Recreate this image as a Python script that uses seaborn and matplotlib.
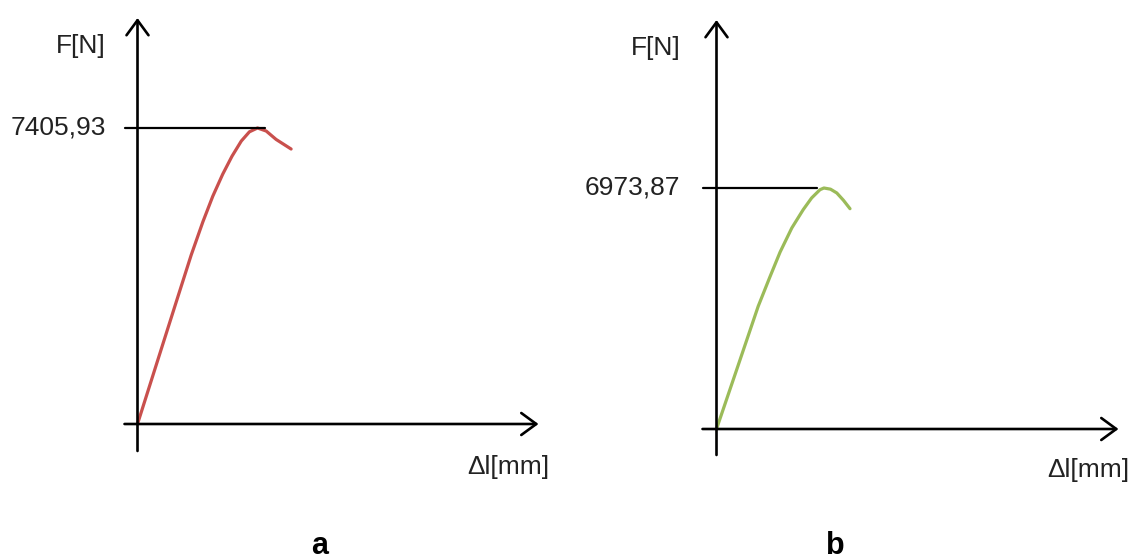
import pandas as pd
import matplotlib.pyplot as plt
import seaborn as sns

# force-elongation curves
dl_a = [0, 0.82, 1.3, 1.79, 2.18, 2.51, 2.84, 3.15, 3.46, 3.73, 4.0, 4.29, 4.62, 5.12]
F_a = [0, 1940, 3075, 4228, 5060, 5700, 6250, 6700, 7080, 7310, 7405.93, 7330, 7120, 6880]

dl_b = [0, 0.7, 1.39, 1.78, 2.12, 2.51, 2.89, 3.17, 3.45, 3.58, 3.8, 4.01, 4.23, 4.45]
F_b = [0, 1786, 3551, 4400, 5120, 5817, 6347, 6685, 6925, 6973.87, 6940, 6830, 6620, 6375]

peak_labels = ["7405,93", "6973,87"]
panel_labels = ["a", "b"]
x_label = "\u0394l[mm]"
y_label = "F[N]"

sns.set_style("white")
plt.rcParams["font.family"] = ["Liberation Sans", "DejaVu Sans"]

W, H = 1134, 559
fig = plt.figure(figsize=(W / 100, H / 100), dpi=100)

TEXT = "#222222"
ARROW = dict(arrowstyle="->,head_length=0.6,head_width=0.44", lw=1.9,
             color="black", mutation_scale=18, shrinkA=0, shrinkB=0)

# layout per panel: axes box in px, origin px, row of the peak, px per mm,
# axis extents and label offsets (px from origin)
panels = [
    dict(dl=dl_a, F=F_a, box=(0, 0, 567, 520), origin=(137.5, 424), peak_py=128,
         px_mm=30.0, color="#C9504D", x_ext=(-13, 401), y_ext=(-27, 406),
         line_end=7, peak_gap=32, ylab_px=378, xlab_px=(412, -43), letter_x=320),
    dict(dl=dl_b, F=F_b, box=(567, 0, 1134, 520), origin=(716.5, 429), peak_py=188,
         px_mm=30.0, color="#9BBB59", x_ext=(-14, 402), y_ext=(-26, 409),
         line_end=-7, peak_gap=36, ylab_px=381, xlab_px=(413, -41), letter_x=835),
]

for i, p in enumerate(panels):
    left, top, right, bottom = p["box"]
    ox, oy = p["origin"]
    peak = max(p["F"])
    peak_dl = p["dl"][p["F"].index(peak)]
    sx = p["px_mm"]
    sy = (oy - p["peak_py"]) / peak  # px per newton

    ax = fig.add_axes([left / W, 1 - bottom / H, (right - left) / W, (bottom - top) / H])
    ax.set_xlim((left - ox) / sx, (right - ox) / sx)
    ax.set_ylim((oy - bottom) / sy, (oy - top) / sy)
    ax.axis("off")

    df = pd.DataFrame({"dl": p["dl"], "F": p["F"]})
    sns.lineplot(data=df, x="dl", y="F", ax=ax, color=p["color"], linewidth=2.3,
                 solid_capstyle="round", solid_joinstyle="round")

    # axes with arrow heads
    x0, x1 = p["x_ext"][0] / sx, p["x_ext"][1] / sx
    y0, y1 = p["y_ext"][0] / sy, p["y_ext"][1] / sy
    ax.annotate("", xy=(x1, 0), xytext=(x0, 0), arrowprops=ARROW)
    ax.annotate("", xy=(0, y1), xytext=(0, y0), arrowprops=ARROW)

    # level of the maximum force
    ax.plot([x0, peak_dl + p["line_end"] / sx], [peak, peak], color="black", lw=1.6)
    ax.text(-p["peak_gap"] / sx, peak, peak_labels[i], ha="right", va="center",
            fontsize=19, color=TEXT)

    ax.text(-p["peak_gap"] / sx, p["ylab_px"] / sy, y_label, ha="right", va="center",
            fontsize=19, color=TEXT)
    ax.text(p["xlab_px"][0] / sx, p["xlab_px"][1] / sy, x_label, ha="right", va="center",
            fontsize=19, color=TEXT)

    fig.text(p["letter_x"] / W, 5 / H, panel_labels[i], ha="center", va="baseline",
             fontsize=22, fontweight="bold", color="black")

fig.savefig("out.png", dpi=100, facecolor="white")
